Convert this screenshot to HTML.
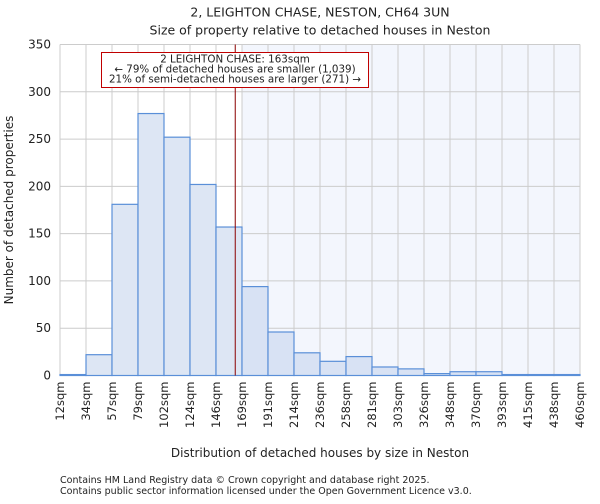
<!DOCTYPE html>
<html><head><meta charset="utf-8"><style>
body{margin:0;background:#fff;font-family:"DejaVu Sans","Liberation Sans",sans-serif;}
svg text{font-family:"DejaVu Sans","Liberation Sans",sans-serif;fill:#222;}
</style></head><body>
<svg id="chart" width="600" height="500" xmlns="http://www.w3.org/2000/svg">
<text x="320" y="13" font-size="12.5" text-anchor="middle" dominant-baseline="middle">2, LEIGHTON CHASE, NESTON, CH64 3UN</text>
<text x="320" y="31" font-size="12.5" text-anchor="middle" dominant-baseline="middle">Size of property relative to detached houses in Neston</text>
<g id="plot"></g>
<text x="320" y="457" font-size="12" text-anchor="middle">Distribution of detached houses by size in Neston</text>
<text transform="translate(13,210) rotate(-90)" font-size="12" text-anchor="middle">Number of detached properties</text>
<text x="60" y="483" font-size="9.5">Contains HM Land Registry data © Crown copyright and database right 2025.</text>
<text x="60" y="494" font-size="9.5">Contains public sector information licensed under the Open Government Licence v3.0.</text>
</svg>
<script>
const binLabels=["12sqm","34sqm","57sqm","79sqm","102sqm","124sqm","146sqm","169sqm","191sqm","214sqm","236sqm","258sqm","281sqm","303sqm","326sqm","348sqm","370sqm","393sqm","415sqm","438sqm","460sqm"];
const counts=[1,22,181,277,252,202,157,94,46,24,15,20,9,7,2,4,4,1,1,1];
const yTicks=[0,50,100,150,200,250,300,350];
const markerIndex=6.74;
const highlightStart=7;
const annotationLines=["2 LEIGHTON CHASE: 163sqm","← 79% of detached houses are smaller (1,039)","21% of semi-detached houses are larger (271) →"];

const L=60,R=580,T=44.5,B=375.5,yMax=350;
const nb=counts.length;
const xs=i=>L+(R-L)*i/nb;
const ys=v=>B-(B-T)*v/yMax;
const g=document.getElementById('plot');
const NS='http://www.w3.org/2000/svg';
function mk(t,a){const e=document.createElementNS(NS,t);for(const k in a)e.setAttribute(k,a[k]);g.appendChild(e);return e;}

const hl=mk('rect',{x:xs(highlightStart),y:T,width:R-xs(highlightStart),height:B-T,fill:'#f3f6fd'});



for(let i=0;i<=nb;i++){
  const l=mk('line',{x1:xs(i),x2:xs(i),y1:T,y2:B,stroke:'#cccccc','stroke-width':1});
  
  
  const t=mk('text',{transform:`translate(${xs(i)+4},${B+6}) rotate(-90)`,'font-size':11.5,'text-anchor':'end'});
  t.textContent=binLabels[i];
  
  
}
yTicks.forEach(v=>{
  const l=mk('line',{x1:L,x2:R,y1:ys(v),y2:ys(v),stroke:'#cccccc','stroke-width':1});
  
  
  const t=mk('text',{x:L-9,y:ys(v)+4,'font-size':12,'text-anchor':'end'});
  t.textContent=v;
  
  
});
counts.forEach((c,i)=>{
  const r=mk('rect',{x:xs(i),y:ys(c),width:xs(i+1)-xs(i),height:B-ys(c),fill:i>=highlightStart?'#d8e2f4':'#dde6f4',stroke:'#5a8fd8','stroke-width':1.2});
  
  
});
const ml=mk('line',{x1:xs(markerIndex),x2:xs(markerIndex),y1:T,y2:B,stroke:'#8b0000','stroke-width':1});


const box=mk('rect',{x:101.5,y:52.5,width:267,height:35,fill:'#fff',stroke:'#c00000','stroke-width':1});


annotationLines.forEach((s,i)=>{
  const t=mk('text',{x:235,y:62.5+i*10,'font-size':10.3,'text-anchor':'middle'});
  t.textContent=s;
  
  
});
</script>
</body></html>
